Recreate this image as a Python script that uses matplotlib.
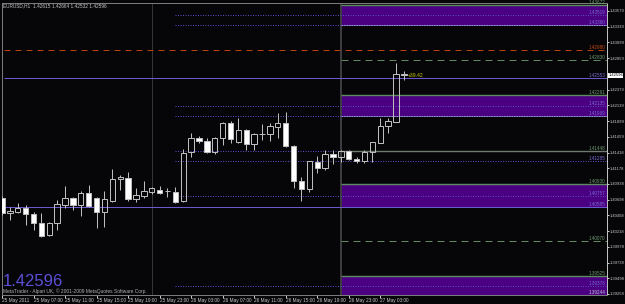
import matplotlib
matplotlib.use("Agg")
import matplotlib.pyplot as plt
import matplotlib.font_manager as fm
from matplotlib.transforms import blended_transform_factory

# ---------------- data ----------------
title_text = "EURUSD,H1  1.42615 1.42664 1.42532 1.42596"
copyright_text = "MetaTrader - Alpari UK, \u00a9 2001-2009 MetaQuotes Software Corp."
last_price_text = "1.42596"
profit_text = "+39.42"

# bar time in hours since 25 May 2011 00:00
hours = list(range(3, 55))
opens = [1.40724, 1.40495, 1.40510, 1.40571, 1.40479, 1.40342, 1.40159, 1.40342, 1.40617, 1.40724,
         1.40617, 1.40800, 1.40724, 1.40510, 1.40678, 1.41014, 1.41029, 1.40708, 1.40754, 1.40815,
         1.40846, 1.40830, 1.40815, 1.40678, 1.41426, 1.41640, 1.41594, 1.41426, 1.41640, 1.41869,
         1.41579, 1.41762, 1.41548, 1.41701, 1.41701, 1.41808, 1.41869, 1.41518, 1.40983, 1.40861,
         1.41273, 1.41182, 1.41395, 1.41350, 1.41441, 1.41319, 1.41289, 1.41426, 1.41563, 1.41823,
         1.41884, 1.42615]
highs = [1.40754, 1.40586, 1.40647, 1.40617, 1.40510, 1.40495, 1.40357, 1.40693, 1.40907, 1.40739,
         1.40830, 1.40922, 1.40739, 1.40830, 1.41166, 1.41075, 1.41121, 1.40876, 1.40983, 1.40891,
         1.40907, 1.40876, 1.40891, 1.41472, 1.41716, 1.41670, 1.41640, 1.41655, 1.41884, 1.41899,
         1.41945, 1.41777, 1.41710, 1.41854, 1.41869, 1.42020, 1.42037, 1.41525, 1.41044, 1.41295,
         1.41365, 1.41456, 1.41456, 1.41456, 1.41456, 1.41350, 1.41456, 1.41585, 1.41945, 1.41945,
         1.42785, 1.42664]
lows = [1.40464, 1.40388, 1.40495, 1.40311, 1.40235, 1.40128, 1.40143, 1.40235, 1.40571, 1.40540,
        1.40449, 1.40586, 1.40265, 1.40281, 1.40662, 1.40846, 1.40678, 1.40662, 1.40724, 1.40785,
        1.40785, 1.40739, 1.40647, 1.40662, 1.41350, 1.41563, 1.41411, 1.41395, 1.41533, 1.41563,
        1.41563, 1.41456, 1.41456, 1.41609, 1.41594, 1.41640, 1.41502, 1.40876, 1.40678, 1.40815,
        1.41105, 1.41151, 1.41243, 1.41273, 1.41304, 1.41258, 1.41258, 1.41273, 1.41560, 1.41716,
        1.41880, 1.42532]
closes = [1.40495, 1.40525, 1.40571, 1.40479, 1.40342, 1.40143, 1.40342, 1.40632, 1.40724, 1.40617,
          1.40800, 1.40601, 1.40510, 1.40708, 1.41014, 1.41044, 1.40708, 1.40769, 1.40830, 1.40876,
          1.40800, 1.40825, 1.40662, 1.41411, 1.41640, 1.41594, 1.41426, 1.41640, 1.41869, 1.41624,
          1.41762, 1.41548, 1.41701, 1.41706, 1.41823, 1.41869, 1.41518, 1.40983, 1.40861, 1.41289,
          1.41182, 1.41395, 1.41350, 1.41441, 1.41319, 1.41289, 1.41426, 1.41579, 1.41823, 1.41899,
          1.42615, 1.42596]

# day separators (hours)
day_starts = [22, 46]
prev_levels_start = 25

# current-day zones (low, high) and mid levels
zone_lows = [1.43360, 1.41969, 1.40590, 1.39244]
zone_highs = [1.43672, 1.42291, 1.40930, 1.39525]
zone_mids = [1.43519, 1.42135, 1.40757, 1.39376]

# previous-day dotted levels
dotted_levels = [1.43519, 1.43360, 1.42135, 1.41969, 1.41448, 1.41285, 1.40757, 1.39376]

# other lines
red_dashed = [1.42980]
green_dashed = [1.42830, 1.40070]
purple_full = [1.42553, 1.40590]
gray_solid_day = [1.41448]

# price labels on the right edge of the chart
level_label_values = [1.43672, 1.43519, 1.43360, 1.42980, 1.42830, 1.42553, 1.42291, 1.42135,
                      1.41969, 1.41448, 1.41285, 1.40930, 1.40757, 1.40585, 1.40070, 1.39525,
                      1.39376, 1.39244]
level_label_kinds = ["g", "p", "p", "r", "g", "p", "g", "p", "p", "g", "p", "g", "p", "p",
                     "g", "g", "p", "w"]

# price axis (the 1.42619 step is covered by the current-price marker)
ytick_values = [1.43579, 1.43339, 1.43099, 1.42859, 1.42379, 1.42139, 1.41899, 1.41659,
                1.41418, 1.41178, 1.40938, 1.40698, 1.40458, 1.40218, 1.39978, 1.39738,
                1.39498, 1.39258]
ytick_labels = ["1.43579", "1.43339", "1.43099", "1.42859", "1.42379", "1.42139",
                "1.41899", "1.41659", "1.41418", "1.41178", "1.40938", "1.40698", "1.40458",
                "1.40218", "1.39978", "1.39738", "1.39498", "1.39258"]

# time axis
xtick_hours = [3, 7, 11, 15, 19, 23, 27, 31, 35, 39, 43, 47, 51]
xtick_labels = ["25 May 2011", "25 May 07:00", "25 May 11:00", "25 May 15:00", "25 May 19:00",
                "25 May 23:00", "26 May 03:00", "26 May 07:00", "26 May 11:00", "26 May 15:00",
                "26 May 19:00", "26 May 23:00", "27 May 03:00"]

# ---------------- style ----------------
BG = "#060609"
FG = "#c8c8c8"
CANDLE = "#bdbdbd"
ZONE = "#4B0082"
GREEN = "#5f8a5f"
PURPLE = "#5a4cc0"
RED = "#b8400e"
label_colors = {"g": "#6f9a6f", "p": "#7a6ad0", "r": "#c84810", "w": "#c0c0d0"}

names = {f.name for f in fm.fontManager.ttflist}
narrow = "Liberation Sans Narrow" in names
small_family = ["Liberation Sans Narrow"] if narrow else ["Liberation Sans", "DejaVu Sans"]
k = 1.15 if narrow else 1.0   # size factor when a narrow face is available

W, H = 625, 304
fig = plt.figure(figsize=(W / 100, H / 100), dpi=100, facecolor=BG)
ax = fig.add_axes([2 / W, 9 / H, 605 / W, 292 / H])
ax.set_facecolor(BG)

ymax, ymin = 1.43701, 1.39242
xmin, xmax = 3.2, 79.78
ax.set_xlim(xmin, xmax)
ax.set_ylim(ymin, ymax)

lw = 0.72
dstart = day_starts[-1]

# zones
for lo, hi, mid in zip(zone_lows, zone_highs, zone_mids):
    ax.fill_between([dstart, xmax], lo, hi, color=ZONE, lw=0, zorder=1)
    ax.hlines(hi, dstart, xmax, color=GREEN, lw=lw * 1.4, zorder=2)
    ax.hlines(lo, dstart, xmax, color="#9a90c8", lw=lw, zorder=2)

# dotted previous-day levels
for v in dotted_levels:
    ax.hlines(v, prev_levels_start, xmax, color=PURPLE, lw=lw, linestyles=(0, (1, 1.5)), zorder=2)

for v in red_dashed:
    ax.hlines(v, xmin, xmax, color=RED, lw=lw, linestyles=(0, (6, 5)), zorder=2)
for v in green_dashed:
    ax.hlines(v, dstart, xmax, color=GREEN, lw=lw, linestyles=(0, (7, 5)), zorder=2)
for v in purple_full:
    ax.hlines(v, xmin, xmax, color="#6a5acd", lw=lw, zorder=2)
for v in gray_solid_day:
    ax.hlines(v, dstart, xmax, color="#707a70", lw=lw * 1.4, zorder=2)

# day separators
ax.vlines(day_starts[0], ymin, ymax, color="#333338", lw=lw, zorder=1.5)
ax.vlines(day_starts[1], ymin, ymax, color="#3c3c40", lw=lw * 2, zorder=1.5)

# candles
bw = 0.68
for h, o, hi, lo, c in zip(hours, opens, highs, lows, closes):
    top, bot = max(o, c), min(o, c)
    ax.vlines(h, top, hi, color=CANDLE, lw=lw, zorder=4)
    ax.vlines(h, lo, bot, color=CANDLE, lw=lw, zorder=4)
    bull = c >= o
    height = max(top - bot, 0.00002)
    ax.bar(h, height, width=bw, bottom=bot,
           facecolor=("none" if bull else "#ffffff"),
           edgecolor=CANDLE, linewidth=lw, zorder=5)

# profit text
ax.text(hours[-1] + 0.55, closes[-1], profit_text, color="#c8c800", fontsize=3.7 * k,
        family=small_family, va="center", ha="left", zorder=6)

# level labels at right edge
tr = blended_transform_factory(ax.transAxes, ax.transData)
for v, kind in zip(level_label_values, level_label_kinds):
    ax.text(0.997, v, f"{v:.5f}", transform=tr, ha="right", va="bottom",
            color=label_colors[kind], fontsize=3.3 * k, family=small_family, zorder=6)

# axes styling
for side in ["left", "top", "bottom"]:
    ax.spines[side].set_color("#7a7a7a")
    ax.spines[side].set_linewidth(lw)
ax.spines["right"].set_color("#c0c0c0")
ax.spines["right"].set_linewidth(lw)

ax.yaxis.tick_right()
ax.set_yticks(ytick_values)
ax.set_yticklabels(ytick_labels)
ax.tick_params(axis="y", colors=FG, labelsize=3.0 * k, length=1.2, width=lw, pad=0.5,
               direction="out")
for t in ax.get_yticklabels():
    t.set_family(small_family)

ax.set_xticks(xtick_hours)
ax.set_xticklabels(xtick_labels, ha="left")
ax.tick_params(axis="x", colors=FG, labelsize=3.4 * k, length=2.0, width=lw, pad=0.3,
               direction="out")
for t in ax.get_xticklabels():
    t.set_family(small_family)

# current price marker on the axis
ax.text(1.0022, closes[-1], last_price_text, transform=tr, ha="left", va="center",
        color="#000000", fontsize=3.0 * k, family=small_family, clip_on=False, zorder=10,
        bbox=dict(boxstyle="square,pad=0.1", facecolor="#ffffff", edgecolor="none"))

# header and footer texts
fig.text(3 / W, 1 - 7.5 / H, title_text, color=FG, fontsize=3.4 * k, family=small_family,
         ha="left", va="baseline")
fig.text(3 / W, 1 - 286 / H, last_price_text, color="#5b4fd6", fontsize=12 * k,
         family=small_family, ha="left", va="baseline")
fig.text(3 / W, 1 - 293.5 / H, copyright_text, color="#b0b0b0", fontsize=3.5 * k,
         family=small_family, ha="left", va="baseline")

fig.savefig("out.png", dpi=100, facecolor=BG)
